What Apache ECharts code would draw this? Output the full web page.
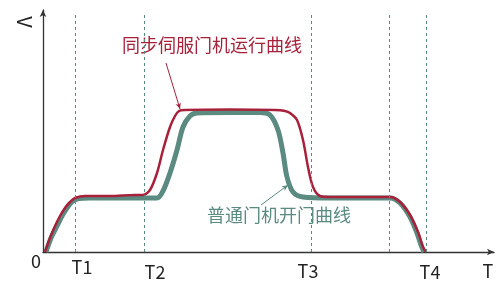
<!DOCTYPE html>
<html>
<head>
<meta charset="utf-8">
<script src="https://cdn.jsdelivr.net/npm/echarts@6/dist/echarts.min.js"></script>
<style>
  html, body { margin: 0; padding: 0; background: #fff; }
  #main { width: 503px; height: 283px; }
</style>
</head>
<body>
<div id="main"></div>
<script>
// 时间轴/速度轴（读图估计，单位为任意刻度）
const servoX = [2, 7, 12, 17, 22, 27, 32, 42, 67, 92, 100, 107, 114, 120, 127, 132, 136, 142, 187, 232, 242, 247, 254, 260, 265, 270, 277, 287, 347, 357, 367, 375, 380, 383];
const servoY = [0, 14, 26, 36, 44, 50, 54, 56, 56, 57, 57, 62, 79, 102, 125, 136, 141, 142, 142.5, 142, 141, 139, 132, 112, 85, 65, 56, 55, 55, 50, 37, 20, 5, 0];
const normalX = [3, 8, 14, 19, 24, 29, 34, 47, 114, 120, 127, 134, 140, 147, 154, 187, 217, 227, 235, 240, 244, 250, 260, 287, 347, 357, 367, 374, 378, 381];
const normalY = [0, 14, 26, 36, 44, 50, 53, 54, 54, 61, 79, 102, 125, 136, 139, 139.5, 139.5, 137, 122, 99, 75, 60, 55, 54, 54, 49, 35, 19, 7, 0];

// 虚线位置和下方标签
const markX = [32, 101, 268, 346, 383];
const markNames = ['T1', 'T2', 'T3', '', 'T4'];
const labelShift = [[7, 4], [11, 9], [-3, 8], [0, 0], [4, 9]];

// 标注引线 [起点, 终点]
const servoLeader = [[123, 189], [137, 143]];
const normalLeader = [[218, 47], [245, 67]];

const red = '#a8213a';
const green = '#5b8a80';
const font = '"Noto Sans CJK SC", "Noto Sans", sans-serif';

const myChart = echarts.init(document.getElementById('main'));

const pairs = (xs, ys) => xs.map((x, i) => [x, ys[i]]);

const option = {
  animation: false,
  grid: { left: 43, right: 9, top: 10, bottom: 31 },
  xAxis: {
    type: 'value',
    min: 0,
    max: 451,
    name: 'T',
    nameLocation: 'end',
    nameGap: -6,
    nameTextStyle: {
      color: '#222', fontSize: 18, fontFamily: font,
      align: 'center', verticalAlign: 'top', padding: [10, 0, 0, 0]
    },
    axisLine: {
      symbol: ['none', 'arrow'], symbolSize: [5, 7],
      lineStyle: { color: '#333', width: 1.3 }
    },
    axisTick: { show: false },
    axisLabel: { show: false },
    splitLine: { show: false }
  },
  yAxis: {
    type: 'value',
    min: 0,
    max: 242,
    axisLine: {
      show: true,
      symbol: ['none', 'arrow'], symbolSize: [5, 7],
      lineStyle: { color: '#333', width: 1.3 }
    },
    axisTick: { show: false },
    axisLabel: { show: false },
    splitLine: { show: false }
  },
  graphic: [
    {
      // 纵轴名 V，顺时针旋转 90°
      type: 'text', x: 25, y: 22, rotation: -Math.PI / 2,
      style: { text: 'V', fill: '#222', font: '20px ' + font, align: 'center', verticalAlign: 'middle' }
    },
    {
      type: 'text', left: 31, top: 252,
      style: { text: '0', fill: '#222', font: '18px ' + font }
    },
    {
      type: 'text', left: 122, top: 36,
      style: { text: '同步伺服门机运行曲线', fill: red, font: '18px ' + font }
    },
    {
      type: 'text', left: 207, top: 206,
      style: { text: '普通门机开门曲线', fill: green, font: '18px ' + font }
    }
  ],
  series: [
    {
      name: '普通门机开门曲线',
      type: 'line',
      data: pairs(normalX, normalY),
      showSymbol: false,
      smooth: 0.3,
      lineStyle: { color: green, width: 5 },
      z: 2,
      markLine: {
        silent: true,
        symbol: ['none', 'none'],
        lineStyle: { color: green, type: [3, 3], width: 1 },
        label: { show: false },
        data: markX.map((x, i) => [
          {
            coord: [x, 0],
            label: {
              show: markNames[i] !== '',
              position: 'start',
              formatter: markNames[i],
              color: '#222',
              fontSize: 18,
              fontFamily: font,
              distance: 2,
              offset: labelShift[i]
            }
          },
          { coord: [x, 240] }
        ]).concat([[
          { coord: normalLeader[0] },
          { coord: normalLeader[1], symbol: 'arrow', symbolSize: [4, 6], lineStyle: { type: 'solid', color: green, width: 1 } }
        ]])
      }
    },
    {
      name: '同步伺服门机运行曲线',
      type: 'line',
      data: pairs(servoX, servoY),
      showSymbol: false,
      smooth: 0.3,
      lineStyle: { color: red, width: 2.5 },
      z: 3,
      markLine: {
        silent: true,
        symbol: ['none', 'arrow'],
        symbolSize: [4, 6],
        lineStyle: { color: red, type: 'solid', width: 1 },
        label: { show: false },
        data: [[{ coord: servoLeader[0] }, { coord: servoLeader[1] }]]
      }
    }
  ]
};

myChart.setOption(option);
</script>
</body>
</html>
